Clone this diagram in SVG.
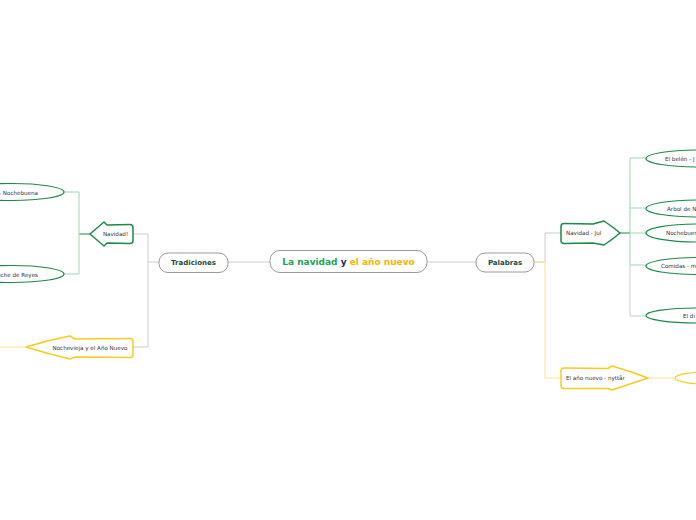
<svg xmlns="http://www.w3.org/2000/svg" width="696" height="520" viewBox="0 0 696 520">
<style>
.bg{fill:#ffffff}
.main{fill:#ffffff;stroke:#9a9a9a;stroke-width:1}
.sub{fill:#ffffff;stroke:#9a9a9a;stroke-width:1}
.subt{font-family:"DejaVu Sans",Verdana,sans-serif;font-weight:bold;font-size:7px;fill:#1d4a3a;text-anchor:middle;dominant-baseline:central}
.maint{font-family:"DejaVu Sans",Verdana,sans-serif;font-weight:bold;font-size:9px;text-anchor:middle;dominant-baseline:central}
.gshape{fill:#ffffff;stroke:#1b8a47;stroke-width:1.5;stroke-linejoin:round}
.yshape{fill:#ffffff;stroke:#f7cc1e;stroke-width:1.5;stroke-linejoin:round}
.gell{fill:#ffffff;stroke:#1b8a47;stroke-width:1.2}
.yell{fill:#ffffff;stroke:#f7cc1e;stroke-width:1.2}
.t{font-family:"DejaVu Sans",Verdana,sans-serif;font-size:5.6px;fill:#333333;dominant-baseline:central}
.gray{fill:none;stroke:#cccccc;stroke-width:1}
.lg{fill:none;stroke:#9fd5b2;stroke-width:1}
.dg{fill:none;stroke:#1b8a47;stroke-width:1}
.ly{fill:none;stroke:#ffe38f;stroke-width:1}
</style>
<rect class="bg" x="0" y="0" width="696" height="520"/>
<g id="connectors">
  <path class="gray" d="M228,262 H270"/>
  <path class="gray" d="M427,262 H476"/>
  <path class="gray" d="M159,262 H148 M148,234 V347 M148,234 H133 M148,347 H133"/>
  <path class="dg" d="M90,234 H79"/>
  <path class="lg" d="M79,192 V274 M79,192 H64 M79,274 H64"/>
  <path class="ly" d="M26,347 H0"/>
  <path class="gray" d="M534,262 H545 M545,262 V233 H561"/>
  <path class="ly" d="M534,262 H545 M545,262 V378 H561"/>
  <path class="dg" d="M620,233 H630"/>
  <path class="lg" d="M630,158 V265 M630,158 H646 M630,208 H646 M630,233 H646 M630,265 H646"/>
  <path class="gray" d="M630,265 V316 H646"/>
  <path class="ly" d="M648,378 H675"/>
</g>
<g id="node-center">
  <rect class="main" x="270" y="250.5" width="157" height="22" rx="10"/>
  <text class="maint" x="348.5" y="262"><tspan fill="#1aa553">La navidad </tspan><tspan fill="#1f2a5c">y </tspan><tspan fill="#f7b500">el año nuevo</tspan></text>
</g>
<g id="node-tradiciones">
  <rect class="sub" x="159" y="253" width="69" height="19.5" rx="9"/>
  <text class="subt" x="193.5" y="263">Tradiciones</text>
</g>
<g id="node-palabras">
  <rect class="sub" x="476" y="253" width="58" height="19" rx="9"/>
  <text class="subt" x="505" y="262.5">Palabras</text>
</g>
<g id="node-navidad">
  <path class="gshape" d="M90,234 Q97,228 104,222 L107,225 L130,224.5 Q133,224.5 133,227.5 L133,240.5 Q133,243.5 130,243.5 L107,243 L104,246 Q97,240 90,234 Z"/>
  <text class="t" x="115.5" y="234" text-anchor="middle">Navidad!</text>
</g>
<g id="node-nochebuena">
  <ellipse class="gell" cx="12" cy="192" rx="52" ry="8.5"/>
  <text class="t" x="38" y="192.5" text-anchor="end">– Nochebuena</text>
</g>
<g id="node-reyes">
  <ellipse class="gell" cx="12" cy="274" rx="52" ry="8.5"/>
  <text class="t" x="38" y="274.5" text-anchor="end">oche de Reyes</text>
</g>
<g id="node-nochevieja">
  <path class="yshape" d="M26,347 Q48,340 70,336 L75,339 L130,338.5 Q133,338.5 133,341.5 L133,354.5 Q133,357.5 130,357.5 L75,357 L70,359 Q48,354 26,347 Z"/>
  <text class="t" x="90" y="348" text-anchor="middle">Nochevieja y el Año Nuevo</text>
</g>
<g id="node-navidad-jul">
  <path class="gshape" d="M620,233 Q613,227 604,221 L593,224 L564,223.5 Q561,223.5 561,226.5 L561,240.5 Q561,243.5 564,243.5 L593,243 L604,245 Q613,239 620,233 Z"/>
  <text class="t" x="566" y="233">Navidad - Jul</text>
</g>
<g id="node-belen">
  <ellipse class="gell" cx="698" cy="158.5" rx="52" ry="8.5"/>
  <text class="t" x="665" y="158.5">El belén - J</text>
</g>
<g id="node-arbol">
  <ellipse class="gell" cx="698" cy="208.5" rx="52" ry="8.5"/>
  <text class="t" x="667" y="208.5">Árbol de N</text>
</g>
<g id="node-nochebuena2">
  <ellipse class="gell" cx="698" cy="233" rx="52" ry="9"/>
  <text class="t" x="666" y="233">Nochebuen</text>
</g>
<g id="node-comidas">
  <ellipse class="gell" cx="698" cy="266" rx="52" ry="8.5"/>
  <text class="t" x="661" y="266">Comidas - m</text>
</g>
<g id="node-eldi">
  <ellipse class="gell" cx="698" cy="315.5" rx="52" ry="7.5"/>
  <text class="t" x="683" y="316">El di</text>
</g>
<g id="node-ano-nuevo">
  <path class="yshape" d="M648,378 Q630,371 612,366 L608,368.5 L564,368 Q561,368 561,371 L561,385.5 Q561,388.5 564,388.5 L608,388.5 L612,390 Q630,384 648,378 Z"/>
  <text class="t" x="566" y="378">El año nuevo - nyttår</text>
</g>
<g id="node-ano-nuevo-child">
  <ellipse class="yell" cx="715" cy="378" rx="40" ry="6.5"/>
</g>
</svg>
